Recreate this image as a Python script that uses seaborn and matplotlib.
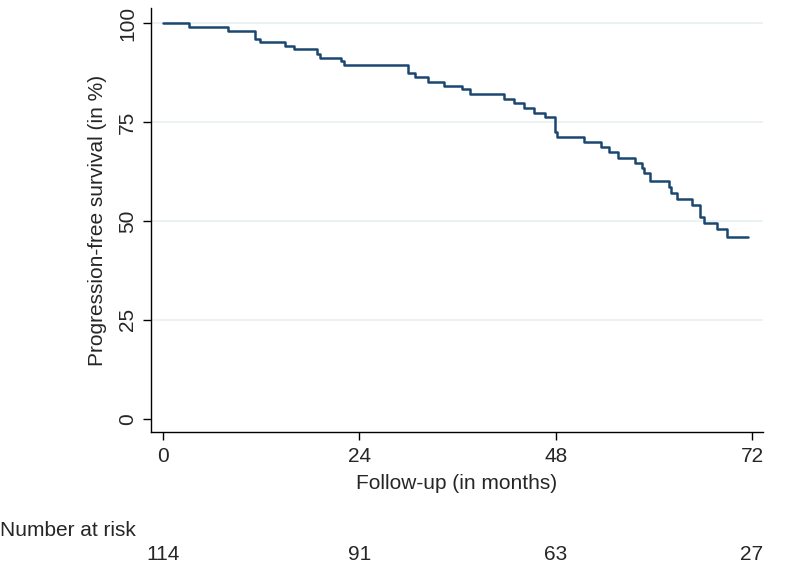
import matplotlib
matplotlib.use("Agg")

import matplotlib.pyplot as plt
import matplotlib.transforms as mtransforms
import pandas as pd
import seaborn as sns

# Kaplan-Meier steps (months, % progression-free)
months = [0, 3.2, 7.9, 11.3, 11.8, 14.9, 16.0, 18.8, 19.2, 21.8, 22.1,
          30.0, 30.8, 32.4, 34.3, 36.5, 37.5, 41.7, 42.9, 44.1, 45.3,
          46.7, 47.9, 48.2, 51.5, 53.5, 54.5, 55.6, 57.7, 58.5, 58.8,
          59.5, 61.8, 62.1, 62.8, 64.7, 65.7, 66.1, 67.7, 68.9, 71.5]
survival = [100, 98.9, 98.0, 96.1, 95.1, 94.3, 93.4, 92.3, 91.3, 90.4, 89.4,
            87.3, 86.3, 85.2, 84.2, 83.3, 82.1, 80.9, 79.9, 78.6, 77.3,
            76.2, 72.4, 71.3, 70.0, 68.8, 67.5, 66.0, 64.6, 63.3, 62.0,
            60.1, 58.7, 57.1, 55.5, 54.0, 50.9, 49.4, 47.9, 45.9, 45.9]

x_ticks = [0, 24, 48, 72]
y_ticks = [0, 25, 50, 75, 100]
at_risk = [114, 91, 63, 27]

LINE = "#1A476F"
GRID = "#e8f0f2"
FS = 15

sns.set_style("white")
plt.rcParams["font.family"] = ["Liberation Sans", "DejaVu Sans"]

df = pd.DataFrame({"month": months, "pfs": survival})

fig = plt.figure(figsize=(7.87, 5.75), dpi=100)
ax = fig.add_axes([0.192, 0.249, 0.777, 0.737])

sns.lineplot(data=df, x="month", y="pfs", ax=ax, color=LINE,
             linewidth=1.8, drawstyle="steps-post", estimator=None)

ax.set_xlim(-1.46, 73.3)
ax.set_ylim(-3.3, 103.8)
ax.set_xticks(x_ticks)
ax.set_yticks(y_ticks)
ax.set_yticklabels([str(v) for v in y_ticks], rotation=90, va="center")
for v in y_ticks[1:]:
    ax.axhline(v, color=GRID, linewidth=1.2, zorder=0)

for side in ["top", "right"]:
    ax.spines[side].set_visible(False)
for side in ["left", "bottom"]:
    ax.spines[side].set_color("black")
    ax.spines[side].set_linewidth(1.0)
ax.tick_params(axis="both", length=6, width=1.0, color="black",
               labelsize=FS, direction="out", left=True, bottom=True)
ax.tick_params(axis="x", pad=5)
ax.tick_params(axis="y", pad=4)

ax.set_xlabel("Follow-up (in months)", fontsize=FS, labelpad=6)
ax.set_ylabel("Progression-free survival (in %)", fontsize=FS, labelpad=8)

# number at risk table below the axis
fig.text(0.0, 1 - 531 / 575, "Number at risk", fontsize=FS,
         ha="left", va="center")
trans = mtransforms.blended_transform_factory(ax.transData, fig.transFigure)
for m, n in zip(x_ticks, at_risk):
    ax.text(m, 1 - 554 / 575, str(n), transform=trans, fontsize=FS,
            ha="center", va="center", clip_on=False)

fig.savefig("out.png", dpi=100)
